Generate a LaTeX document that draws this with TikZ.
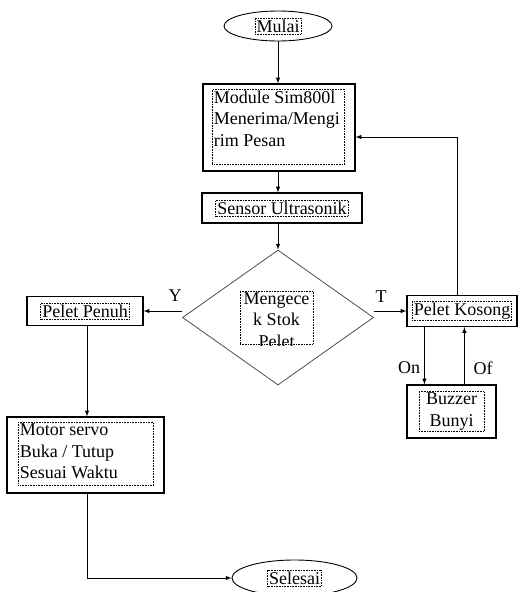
\documentclass[tikz,border=0pt]{standalone}
\usepackage{fontspec}
\setmainfont{Liberation Serif}
\usetikzlibrary{arrows}
\usetikzlibrary{shapes}
\usetikzlibrary{calc}

\tikzset{
  box/.style={draw, line width=1.2pt, inner sep=0pt},
  dotbox/.style={draw, densely dotted, line width=0.6pt, inner sep=1.5pt, font=\fontsize{18}{21.5}\selectfont},
  oval/.style={draw, ellipse, line width=0.9pt, inner sep=0pt},
  flow/.style={-latex, line width=1pt},
  lbl/.style={font=\fontsize{18}{20}\selectfont, inner sep=0pt}
}

\begin{document}
\begin{tikzpicture}[x=1pt,y=1pt,yscale=-1,xscale=1]
\useasboundingbox (0,0) rectangle (520,592);

%Shape: Ellipse
\node[oval, minimum width=108pt, minimum height=30pt] (mulai) at (278,26) {};
\node[dotbox] (mulaitxt) at (mulai) {Mulai};
%Shape: Rectangle
\node[box, minimum width=152pt, minimum height=87pt] (module) at (279,127.5) {};
\node[dotbox, anchor=north west] (moduletxt) at (212,89) {\parbox[c][72pt][t]{129pt}{Module Sim800l\\Menerima/Mengi\\rim Pesan}};
%Shape: Rectangle
\node[box, minimum width=160pt, minimum height=30pt] (sensor) at (282,208) {};
\node[dotbox] (sensortxt) at (sensor) {Sensor Ultrasonik};
%Shape: Diamond
\node[diamond, draw=black!70, line width=0.8pt, minimum width=191pt, minimum height=135pt, inner sep=0pt] (cek) at (278,317.5) {};
\begin{scope}
\clip (236,285) rectangle (318,345);
\node[dotbox] (cektxt) at (276.5,317.5) {\parbox[c][50pt][t]{70pt}{\centering Mengece\\k Stok\\Pelet}};
\end{scope}
%Shape: Rectangle
\node[box, minimum width=116pt, minimum height=29pt] (penuh) at (85,311) {};
\node[dotbox] (penuhtxt) at (penuh) {Pelet Penuh};
%Shape: Rectangle
\node[box, minimum width=110pt, minimum height=31pt] (kosong) at (462,311) {};
\node[dotbox] (kosongtxt) at (kosong) {Pelet Kosong};
%Shape: Rectangle
\node[box, minimum width=89pt, minimum height=53pt] (buzzer) at (451.5,411.5) {};
\node[dotbox, text width=62pt, align=center] (buzzertxt) at (buzzer) {Buzzer\\Bunyi};
%Shape: Rectangle
\node[box, minimum width=157pt, minimum height=76pt] (motor) at (85.5,455) {};
\node[dotbox, anchor=north west] (motortxt) at (18,422) {\parbox[c][60pt][t]{132pt}{Motor servo\\Buka / Tutup\\Sesuai Waktu}};
%Shape: Ellipse
\node[oval, minimum width=125pt, minimum height=36pt] (selesai) at (294.5,578) {};
\node[dotbox] (selesaitxt) at (selesai) {Selesai};

%Straight Lines
\draw[flow] (mulai.south) -- (mulai.south |- module.north);
\draw[flow] (module.south -| mulai) -- (sensor.north -| mulai);
\draw[flow] (sensor.south -| cek.north) -- (cek.north);
\draw[flow] (penuh.east -| cek.west) -- (penuh.east);
\draw[flow] (kosong.west -| cek.east) -- (kosong.west);
\draw[flow] ([xshift=-5pt]kosong.north) |- ($(module.east)+(0,9.5)$);
\draw[flow] ([xshift=18pt]kosong.south west) -- ([xshift=18pt]kosong.south west |- buzzer.north);
\draw[flow] ([xshift=58pt]buzzer.north west) -- ([xshift=58pt]buzzer.north west |- kosong.south);
\draw[flow] ([xshift=2pt]penuh.south) -- ([xshift=2pt]penuh.south |- motor.north);
\draw[flow] ([xshift=1.5pt]motor.south) |- (selesai.west);

% Text Node
\node[lbl] (ylbl) at (175,296) {Y};
\node[lbl] (tlbl) at (381,297) {T};
\node[lbl] (onlbl) at (409,368) {On};
\node[lbl] (oflbl) at (483,368) {Of};

\end{tikzpicture}
\end{document}
